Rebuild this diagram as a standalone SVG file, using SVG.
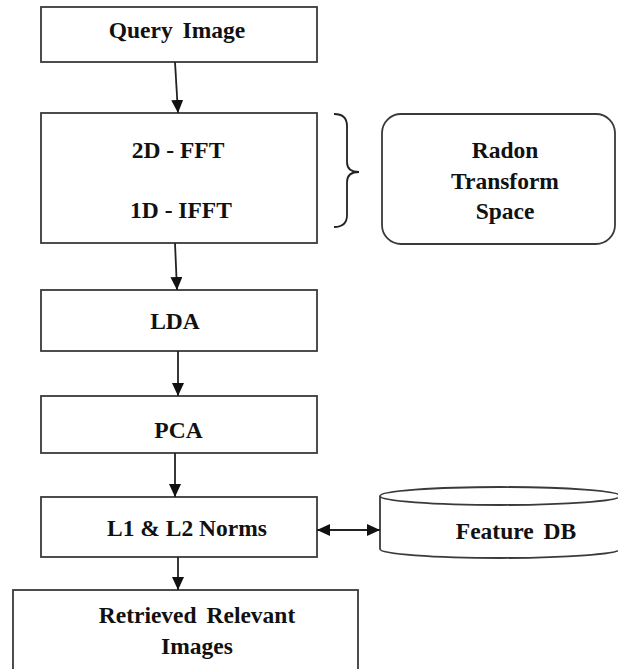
<svg xmlns="http://www.w3.org/2000/svg" width="618" height="669" viewBox="0 0 618 669">
<style>
.box{fill:#fff;stroke:#3a3a3a;stroke-width:1.8}
.t{font-family:'Liberation Serif','Times New Roman',Times,'DejaVu Serif',serif;font-weight:700;font-size:23.5px;fill:#111;text-anchor:middle}
.c{stroke:#222;stroke-width:1.8;fill:none}
</style>
<defs>
<marker id="ah" viewBox="0 0 13 12" refX="13" refY="6" markerWidth="13" markerHeight="12" markerUnits="userSpaceOnUse" orient="auto-start-reverse">
<path d="M0,0 L13,6 L0,12 z" fill="#111"/>
</marker>
</defs>
<rect width="618" height="669" fill="#fff"/>
<g id="query">
<rect class="box" x="41" y="7" width="276" height="55"/>
<text class="t" x="177" y="38" word-spacing="4" font-family="Liberation Serif, serif">Query Image</text>
</g>
<g id="fft">
<rect class="box" x="41" y="113" width="276" height="130"/>
<text class="t" x="178" y="158">2D - FFT</text>
<text class="t" x="181" y="218">1D - IFFT</text>
</g>
<g id="brace">
<path class="c" stroke="#444" stroke-width="1.4" d="M334,114 Q347,114 347,126 L347,162 Q347,172 359,172 Q347,172 347,182 L347,215 Q347,227 334,227"/>
</g>
<g id="radon">
<rect class="box" x="382" y="114" width="233" height="130" rx="19" ry="19"/>
<text class="t" x="505" y="158">Radon</text>
<text class="t" x="505" y="189">Transform</text>
<text class="t" x="505" y="219">Space</text>
</g>
<g id="lda">
<rect class="box" x="41" y="290" width="276" height="61"/>
<text class="t" x="175" y="329">LDA</text>
</g>
<g id="pca">
<rect class="box" x="41" y="396" width="276" height="57"/>
<text class="t" x="178.5" y="438">PCA</text>
</g>
<g id="norms">
<rect class="box" x="41" y="497" width="276" height="60"/>
<text class="t" x="187" y="536">L1 &amp; L2 Norms</text>
</g>
<g id="featuredb">
<path class="box" d="M380,496 L380,549 A120,9 0 0 0 620,549 L620,496"/>
<ellipse class="box" cx="500" cy="496" rx="120" ry="9"/>
<text class="t" x="516" y="539" word-spacing="4">Feature DB</text>
</g>
<g id="retrieved">
<rect class="box" x="13" y="590" width="345" height="100"/>
<text class="t" x="197" y="623" word-spacing="4">Retrieved Relevant</text>
<text class="t" x="197" y="654">Images</text>
</g>
<g id="connectors">
<line class="c" x1="175" y1="62" x2="178" y2="113" marker-end="url(#ah)"/>
<line class="c" x1="175" y1="243" x2="177" y2="290" marker-end="url(#ah)"/>
<line class="c" x1="178" y1="351" x2="178" y2="396" marker-end="url(#ah)"/>
<line class="c" x1="175" y1="453" x2="175" y2="497" marker-end="url(#ah)"/>
<line class="c" x1="317" y1="530" x2="380" y2="530" marker-start="url(#ah)" marker-end="url(#ah)"/>
<line class="c" x1="178" y1="557" x2="178" y2="590" marker-end="url(#ah)"/>
</g>
</svg>
